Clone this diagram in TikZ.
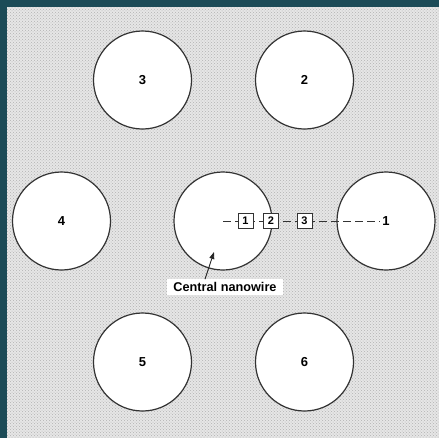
\documentclass[tikz,border=0pt]{standalone}
\usepackage{fontspec}
\setmainfont{Liberation Sans}
\usetikzlibrary{patterns,arrows.meta}
\definecolor{frame}{HTML}{1C4B57}
\definecolor{bg}{HTML}{E6E6E6}
\begin{document}
\begin{tikzpicture}[x=1pt,y=-1pt,
  wire/.style={circle, draw=black!80, line width=1.2pt, fill=white,
    minimum size=98pt, inner sep=0pt, font=\bfseries\fontsize{13}{15}\selectfont},
  probe/.style={draw=black!80, line width=0.9pt, fill=white, minimum size=15pt,
    inner sep=0pt, font=\bfseries\fontsize{11}{13}\selectfont}]
  % dotted backdrop with a dark band along the top and left
  \useasboundingbox (0,0) rectangle (439,437);
  \begin{scope}
    \clip (0,0) rectangle (439,437);
    \fill[bg] (0,0) rectangle (445,443);
    \fill[pattern=crosshatch dots, pattern color=black!30] (7,7) rectangle (445,443);
    \fill[frame] (0,0) rectangle (445,7);
    \fill[frame] (0,0) rectangle (7,443);
  \end{scope}

  % nanowire array
  \node[wire] (w3) at (142.5,80) {3};
  \node[wire] (w2) at (304.5,80) {2};
  \node[wire] (w4) at (61.5,221) {4};
  \node[wire] (wc) at (223,221) {};
  \node[wire] (w1) at (386,221) {1};
  \node[wire] (w5) at (142.5,362) {5};
  \node[wire] (w6) at (304.5,362) {6};

  % measurement line with probe points
  \draw[black!80, line width=0.9pt, dash pattern=on 8pt off 4pt, shorten >=6pt]
    (wc.center) -- (w1.center);
  \node[probe] (p1) at (245.5,220.5) {1};
  \node[probe] (p2) at (271,220.5) {2};
  \node[probe] (p3) at (304.5,220.5) {3};

  % label for the central wire
  \node[fill=white, inner xsep=6pt, inner ysep=3pt,
    font=\bfseries\fontsize{12.7}{14}\selectfont] (lab) at (225,287) {Central nanowire};
  \coordinate (tip) at (214,252);
  \draw[black!85, line width=0.9pt, -{Triangle[length=7pt,width=5pt]}]
    ([xshift=-20pt]lab.north) -- (tip);
\end{tikzpicture}
\end{document}
